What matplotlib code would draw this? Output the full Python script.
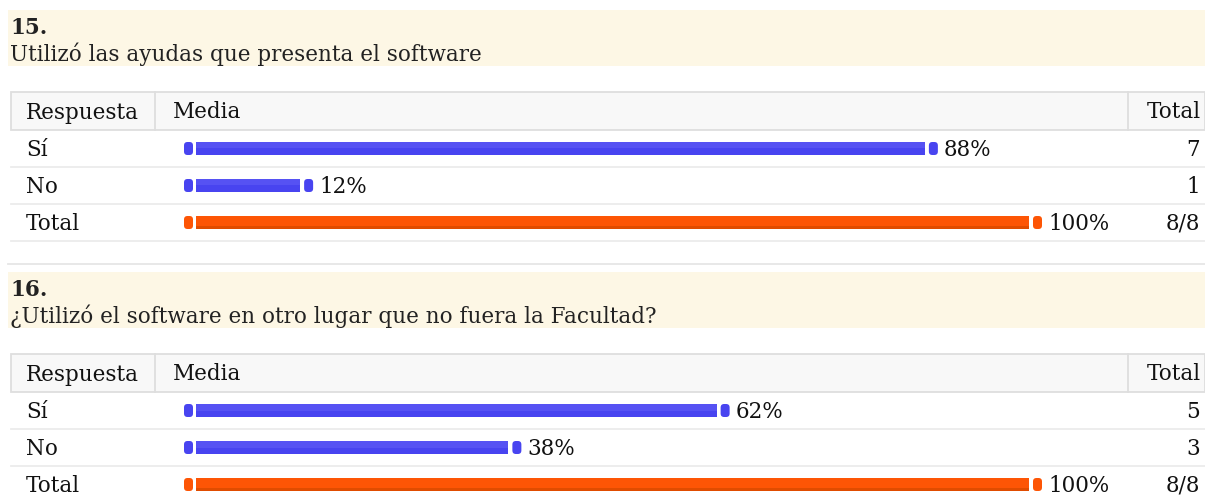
import matplotlib.pyplot as plt
from matplotlib.patches import Rectangle, FancyBboxPatch

# survey data
questions = ["15.", "16."]
question_texts = ["Utilizó las ayudas que presenta el software",
                  "¿Utilizó el software en otro lugar que no fuera la Facultad?"]
answers = ["Sí", "No", "Total"]
counts_q15 = [7, 1]
counts_q16 = [5, 3]
n_total = 8

W, H = 1205, 497
BLUE = "#4844f0"
BLUE_HI = "#5652f3"
ORANGE = "#fd5505"
ORANGE_LO = "#e04c00"
BORDER = "#dedede"
FONT = "DejaVu Serif"
FS = 15.5
TXT = "#111111"
DY = 1.5  # small downward nudge for text

fig = plt.figure(figsize=(W / 100, H / 100), dpi=100)
ax = fig.add_axes([0, 0, 1, 1])
ax.set_xlim(0, W)
ax.set_ylim(H, 0)
ax.axis("off")


def draw_section(top, number, text, counts):
    # cream question band
    ax.add_patch(Rectangle((8, top), W - 8, 56, color="#fdf7e5", lw=0))
    ax.text(10, top + 17 + DY, number, fontsize=FS, fontweight="bold",
            family=FONT, va="center", color="#222222")
    ax.text(10, top + 43 + DY, text, fontsize=FS, family=FONT,
            va="center", color="#222222")

    # table header
    h_top = top + 82
    h_bot = h_top + 38
    ax.add_patch(Rectangle((11, h_top), W - 11, h_bot - h_top,
                           facecolor="#f8f8f8", edgecolor=BORDER, lw=1.3))
    for xv in (155, 1128):
        ax.plot([xv, xv], [h_top, h_bot], color=BORDER, lw=1.3)
    hy = (h_top + h_bot) / 2 + DY
    ax.text(26, hy, "Respuesta", fontsize=FS, family=FONT, va="center", color=TXT)
    ax.text(173, hy, "Media", fontsize=FS, family=FONT, va="center", color=TXT)
    ax.text(1147, hy, "Total", fontsize=FS, family=FONT, va="center", color=TXT,
            clip_on=True)

    # rows
    row_h = 37
    values = [c / n_total * 100 for c in counts] + [100]
    totals = [str(c) for c in counts] + [f"{sum(counts)}/{n_total}"]
    for i in range(len(answers)):
        y0 = h_bot + i * row_h
        ax.plot([11, W], [y0 + row_h, y0 + row_h], color="#ececec", lw=1.3)
        yc = y0 + row_h / 2 + DY
        ax.text(26, yc, answers[i], fontsize=FS, family=FONT, va="center",
                color=TXT)
        ax.text(1200, yc, totals[i], fontsize=FS, family=FONT,
                va="center", ha="right", color=TXT)

    # bar axes: 0..100 % over the media column
    n = len(answers)
    bax = fig.add_axes([196 / W, 1 - (h_bot + n * row_h) / H,
                        833 / W, n * row_h / H])
    bax.set_xlim(0, 100)
    bax.set_ylim(n - 0.5, -0.5)
    bax.axis("off")
    px = 100 / 833  # one pixel in percent units
    bh = 13 / row_h
    ys = list(range(n))
    colors = [BLUE] * (n - 1) + [ORANGE]
    bax.barh(ys, values, height=bh, color=colors, lw=0)
    # highlight / shade strips
    for y, v, c in zip(ys, values, colors):
        if c == BLUE:
            bax.barh(y - bh * 0.25, v, height=bh * 0.5, color=BLUE_HI, lw=0)
        else:
            bax.barh(y + bh * 0.4, v, height=bh * 0.2, color=ORANGE_LO, lw=0)

    to_px = bax.transData + ax.transData.inverted()
    for y, v, c in zip(ys, values, colors):
        for x0 in (-12 * px, v + 4 * px):
            (x_a, y_a) = to_px.transform((x0, y - bh / 2))
            (x_b, y_b) = to_px.transform((x0 + 9 * px, y + bh / 2))
            ax.add_patch(FancyBboxPatch((x_a, min(y_a, y_b)), x_b - x_a,
                                        abs(y_b - y_a),
                                        boxstyle="round,pad=0,rounding_size=3.5",
                                        color=c, lw=0))
        # y axis is inverted here, so adding moves the label down
        bax.text(v + 19 * px, y + DY / row_h, f"{round(v)}%", fontsize=FS,
                 family=FONT, va="center", clip_on=False, color=TXT)


draw_section(10, questions[0], question_texts[0], counts_q15)
ax.plot([8, W], [264, 264], color="#e6e6e6", lw=1.3)
draw_section(272, questions[1], question_texts[1], counts_q16)

fig.savefig("out.png", dpi=100)
